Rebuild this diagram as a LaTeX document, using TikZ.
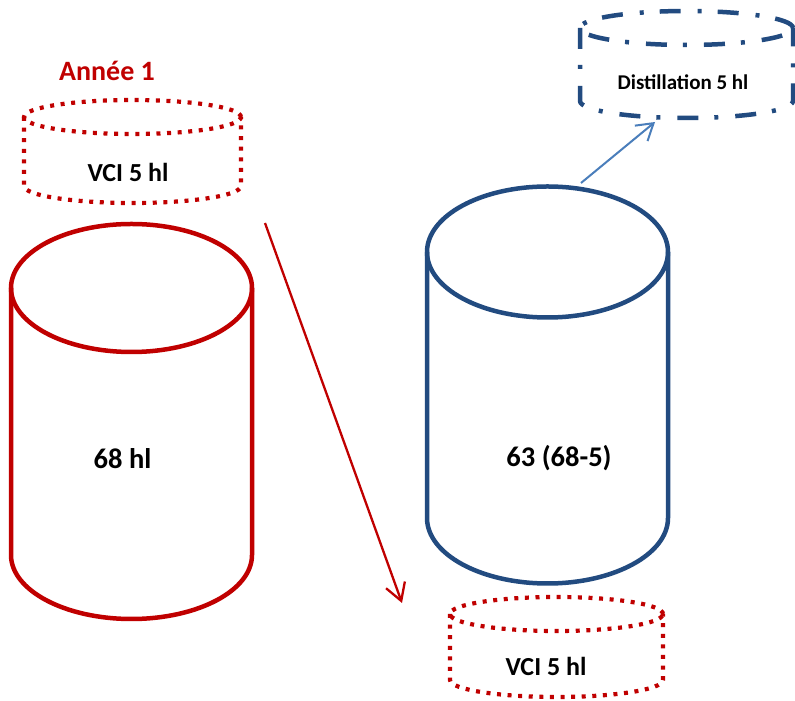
\documentclass[tikz,border=0pt]{standalone}
\usepackage{fontspec}
\setmainfont{Carlito}
\usetikzlibrary{arrows.meta}
\definecolor{cred}{RGB}{192,0,0}
\definecolor{cblue}{RGB}{34,75,128}
\definecolor{carrow}{RGB}{74,126,187}
\tikzset{
  bigred/.style={draw=cred,line width=4.5pt},
  bigblue/.style={draw=cblue,line width=4.5pt},
  dotred/.style={draw=cred,line width=4.2pt,dash pattern=on 4pt off 6.6pt},
  dashdotblue/.style={draw=cblue,line width=4.5pt,dash pattern=on 21pt off 16pt on 4pt off 17pt},
  lbl/.style={font=\bfseries,text=black,inner sep=0pt,anchor=center},
  redarrow/.style={draw=cred,line width=2.3pt,-{Straight Barb[length=17pt,width=20pt,line width=2.3pt]}},
  bluearrow/.style={draw=carrow,line width=2pt,-{Straight Barb[length=16pt,width=20pt,line width=2pt]}}
}
\begin{document}
\begin{tikzpicture}[x=1pt,y=1pt]
\useasboundingbox (0,0) rectangle (795,701);
% title
\node[lbl,text=cred,font=\bfseries\fontsize{28}{30}\selectfont] (title) at (107,630) {Année 1};
% top-left dotted cylinder
\draw[dotred] (24,584) -- (24,515) arc[start angle=180,end angle=360,x radius=108.5,y radius=17] -- (241,584);
\draw[dotred] (132.5,584) ellipse[x radius=108.5,y radius=17];
\node[lbl,font=\bfseries\fontsize{26}{28}\selectfont] (vci1) at (128,529) {VCI 5 hl};
% big red cylinder
\draw[bigred] (11,413) -- (11,146) arc[start angle=180,end angle=360,x radius=120.5,y radius=64] -- (252,413);
\draw[bigred] (131.5,413) ellipse[x radius=120.5,y radius=64];
\node[lbl,font=\bfseries\fontsize{28.5}{30}\selectfont] (v68) at (122.5,242) {68 hl};
% big blue cylinder
\draw[bigblue] (427,449) -- (427,183) arc[start angle=180,end angle=360,x radius=120.5,y radius=65.5] -- (668,449);
\draw[bigblue] (547.5,449) ellipse[x radius=120.5,y radius=65.5];
\node[lbl,font=\bfseries\fontsize{28.5}{30}\selectfont] (v63) at (559,243) {63 (68-5)};
% distillation dash-dot cylinder
\draw[dashdotblue] (580,673) -- (580,600) arc[start angle=180,end angle=360,x radius=106.5,y radius=17] -- (793,673);
\draw[dashdotblue] (686.5,673) ellipse[x radius=106.5,y radius=17];
\node[lbl,font=\bfseries\fontsize{21}{23}\selectfont] (dist) at (683,619) {Distillation 5 hl};
% bottom dotted cylinder
\draw[dotred] (450,87) -- (450,21) arc[start angle=180,end angle=360,x radius=106.5,y radius=17] -- (663,87);
\draw[dotred] (556.5,87) ellipse[x radius=106.5,y radius=17];
\node[lbl,font=\bfseries\fontsize{26}{28}\selectfont] (vci2) at (546,35) {VCI 5 hl};
% arrows
\coordinate (ra1) at (265,478);
\coordinate (ra2) at (402,98);
\coordinate (ba1) at (581,518);
\coordinate (ba2) at (655,579);
\draw[redarrow] (ra1) -- (ra2);
\draw[bluearrow] (ba1) -- (ba2);
\end{tikzpicture}
\end{document}
